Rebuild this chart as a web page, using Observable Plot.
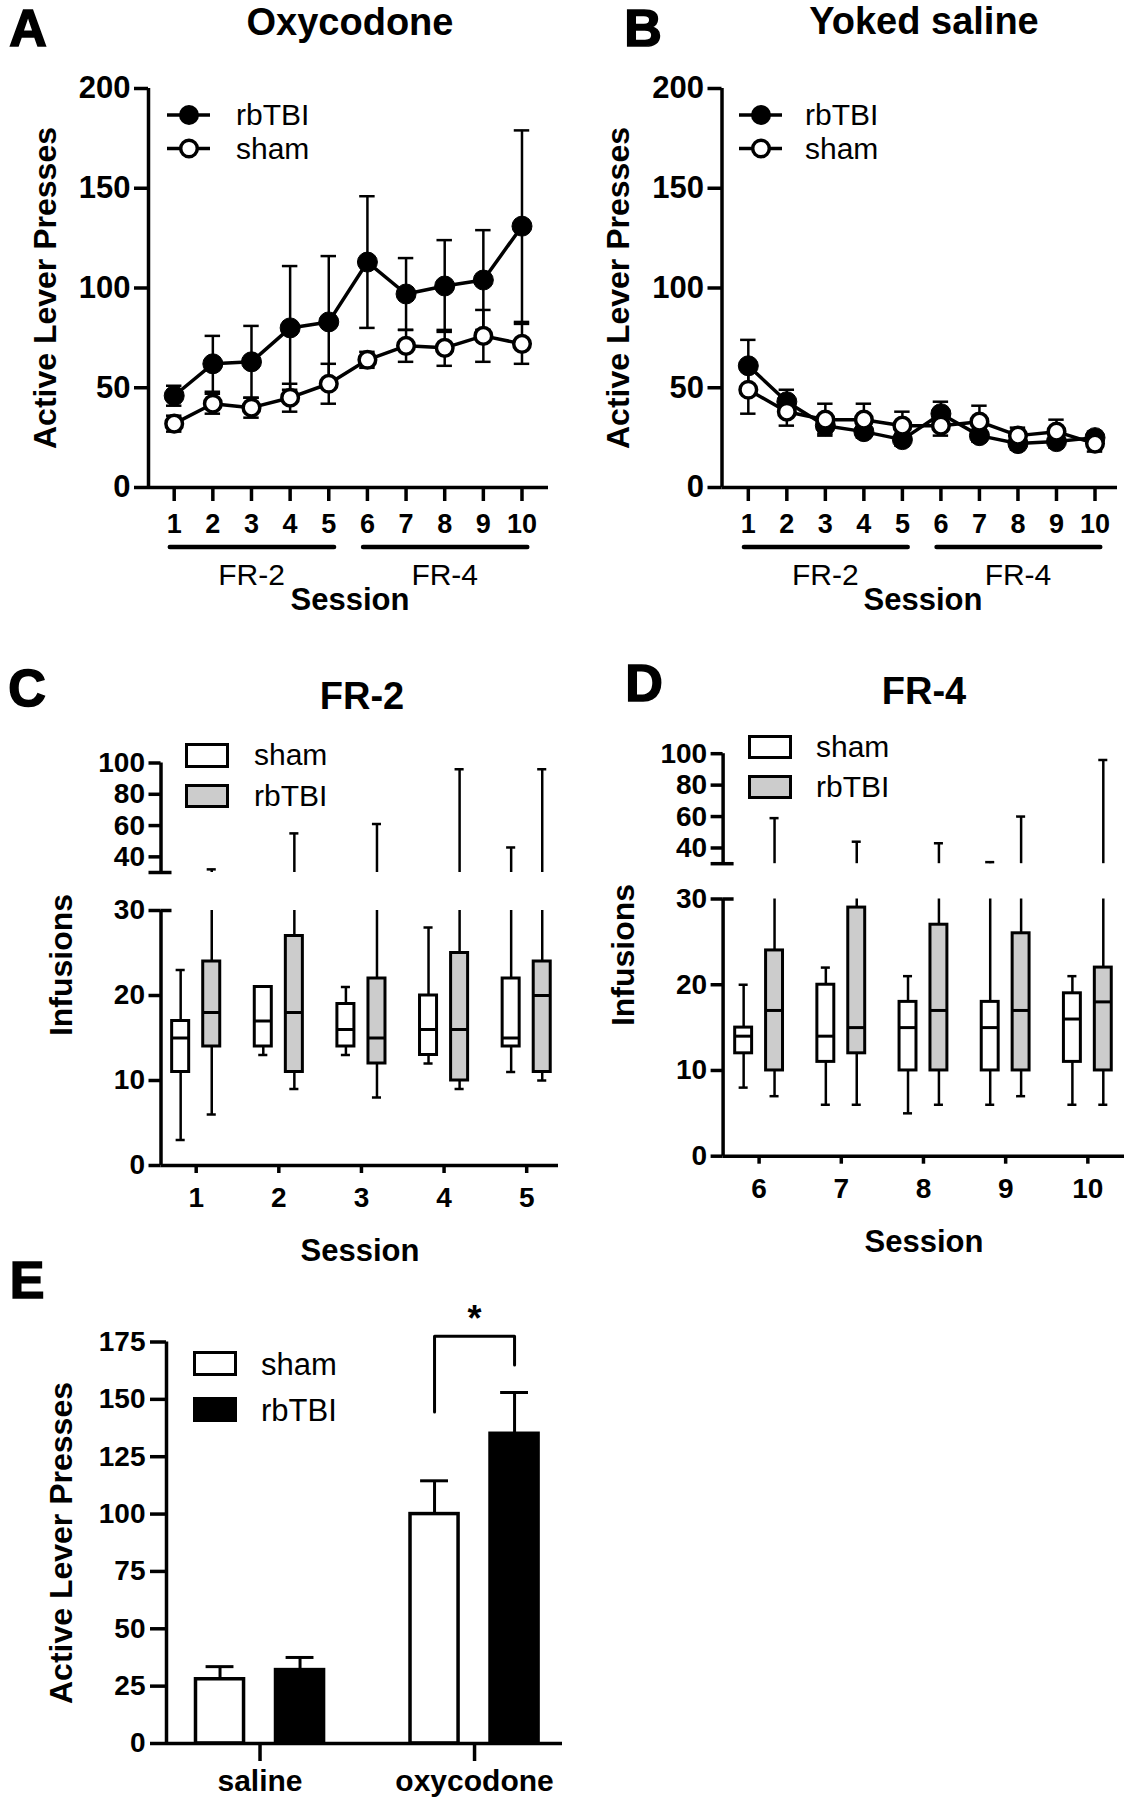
<!DOCTYPE html>
<html><head><meta charset="utf-8">
<script src="https://cdn.jsdelivr.net/npm/d3@7"></script>
<script src="https://cdn.jsdelivr.net/npm/@observablehq/plot@0.6"></script>
<style>
body{margin:0;background:#fff;}
#fig{position:relative;width:1128px;height:1800px;font-family:"Liberation Sans",Arial,Helvetica,sans-serif;color:#000;overflow:hidden;background:#fff;}
.sw{position:absolute;box-sizing:border-box;border:3px solid #000;}
</style></head><body><div id="fig"></div>
<script>
// ---------- DATA ----------
const sessions = [1,2,3,4,5,6,7,8,9,10];
const schedules = [{label:"FR-2", first:1, last:5}, {label:"FR-4", first:6, last:10}];
// Panel A: oxycodone, mean ± SEM
const oxyRbtbiMean = [46,62,63,80,83,113,97,101,104,131];
const oxyRbtbiSem  = [5,14,18,31,33,33,18,23,25,48];
const oxyShamMean  = [32,42,40,45,52,64,71,70,76,72];
const oxyShamSem   = [4,5,5,7,10,4,8,9,13,10];
// Panel B: yoked saline
const salRbtbiMean = [61,43,31,28,24,37,26,22,23,25];
const salRbtbiSem  = [13,6,4,3,3,6,3,3,3,3];
const salShamMean  = [49,38,34,34,31,31,33,26,28,22];
const salShamSem   = [12,7,8,8,7,5,8,4,6,4];
// Panels C, D: infusions [min, q1, median, q3, max]
const sessionsC = [1,2,3,4,5];
const shamC  = [[3,11,15,17,23],[13,14,17,21,21],[13,14,16,19,21],[12,13,16,20,28],[11,14,15,22,46]];
const rbtbiC = [[6,14,18,24,32],[9,11,18,27,55],[8,12,15,22,61],[9,10,16,25,96],[10,11,20,24,96]];
const sessionsD = [6,7,8,9,10];
const shamD  = [[8,12,14,15,20],[6,11,14,20,22],[5,10,15,18,21],[6,10,15,18,31],[6,11,16,19,21]];
const rbtbiD = [[7,10,17,24,59],[6,12,15,29,44],[6,10,17,27,43],[7,10,17,26,60],[6,10,18,22,96]];
// Panel E: active lever presses, mean ± SEM
const categoriesE = ["saline","oxycodone"];
const shamE     = [28,100];
const shamSemE  = [5.5,14.5];
const rbtbiE    = [32,135];
const rbtbiSemE = [5.5,18];
const bracketE  = {category:1, leftEnd:144.5, top:177.5, rightEnd:165, text:"*"};

// ---------- HELPERS ----------
const FONT = '"Liberation Sans", Arial, Helvetica, sans-serif';
const fig = document.getElementById("fig");
function place(node, left, top){
  node.style.position="absolute"; node.style.left=left+"px"; node.style.top=top+"px";
  fig.appendChild(node);
}
function label(text, x, y, o={}){
  const d=document.createElement("div");
  d.textContent=text;
  d.style.cssText=`position:absolute;left:${x}px;top:${y}px;white-space:nowrap;line-height:1;font-size:${o.size||30}px;font-weight:${o.weight||"normal"};`+(o.heavy?"-webkit-text-stroke:1.6px #000;":"");
  const tx = o.anchor==="start" ? "0" : "-50%";
  d.style.transform=`translate(${tx},-50%)`+(o.rotate?` rotate(${o.rotate}deg)`:"");
  fig.appendChild(d);
}
function swatch(x,y,w,h,fill){
  const d=document.createElement("div"); d.className="sw";
  d.style.cssText+=`left:${x}px;top:${y}px;width:${w}px;height:${h}px;background:${fill};`;
  fig.appendChild(d);
}
function lineLegend(x, y1, y2){
  const ns="http://www.w3.org/2000/svg";
  const s=document.createElementNS(ns,"svg");
  s.setAttribute("width",60); s.setAttribute("height",80);
  s.innerHTML=`<line x1="7" y1="${y1}" x2="50" y2="${y1}" stroke="#000" stroke-width="3.5"/>
  <circle cx="29" cy="${y1}" r="10" fill="#000"/>
  <line x1="7" y1="${y2}" x2="50" y2="${y2}" stroke="#000" stroke-width="3.5"/>
  <circle cx="29" cy="${y2}" r="8.3" fill="#fff" stroke="#000" stroke-width="3.5"/>`;
  place(s, x, 95);
}
const baseStyle = {fontFamily: FONT, background:"transparent", color:"#000", overflow:"visible"};
const intFmt = d => String(d);

// ---------- PANELS A, B ----------
function linePanel({left, ml, mr, xdom, rb, rbs, sh, shs}){
  const W=564, H=620;
  const rows = sessions.map((s,i)=>({s, rb:rb[i], rbs:rbs[i], sh:sh[i], shs:shs[i]}));
  const cap=0.2;
  const p = Plot.plot({
    width:W, height:H, marginLeft:ml, marginRight:mr, marginTop:88, marginBottom:133,
    style: baseStyle,
    x:{type:"linear", domain:xdom}, y:{domain:[0,200]},
    marks:[
      Plot.ruleX(rows,{x:"s", y1:d=>d.rb-d.rbs, y2:d=>d.rb+d.rbs, strokeWidth:2.5}),
      Plot.ruleY(rows,{x1:d=>d.s-cap, x2:d=>d.s+cap, y:d=>d.rb+d.rbs, strokeWidth:2.5}),
      Plot.ruleY(rows,{x1:d=>d.s-cap, x2:d=>d.s+cap, y:d=>d.rb-d.rbs, strokeWidth:2.5}),
      Plot.ruleX(rows,{x:"s", y1:d=>d.sh-d.shs, y2:d=>d.sh+d.shs, strokeWidth:2.5}),
      Plot.ruleY(rows,{x1:d=>d.s-cap, x2:d=>d.s+cap, y:d=>d.sh+d.shs, strokeWidth:2.5}),
      Plot.ruleY(rows,{x1:d=>d.s-cap, x2:d=>d.s+cap, y:d=>d.sh-d.shs, strokeWidth:2.5}),
      Plot.line(rows,{x:"s", y:"rb", stroke:"#000", strokeWidth:3.5}),
      Plot.line(rows,{x:"s", y:"sh", stroke:"#000", strokeWidth:3.5}),
      Plot.dot(rows,{x:"s", y:"rb", r:10, fill:"#000", stroke:"#000", strokeWidth:1}),
      Plot.dot(rows,{x:"s", y:"sh", r:8.3, fill:"#fff", stroke:"#000", strokeWidth:3.5}),
      Plot.ruleY([0],{strokeWidth:3.5}),
      Plot.ruleX([xdom[0]],{strokeWidth:3.5}),
      Plot.axisY({ticks:[0,50,100,150,200], tickSize:14, tickPadding:4, fontSize:31, fontWeight:"bold", strokeWidth:3.5, label:null}),
      Plot.axisX({ticks:sessions, tickFormat:intFmt, tickSize:14, tickPadding:12, fontSize:27, fontWeight:"bold", strokeWidth:3.5, label:null}),
      Plot.ruleY(schedules,{x1:d=>d.first-0.1, x2:d=>d.last+0.15, y:d=>0, dy:59.5, strokeWidth:4.5, strokeLinecap:"round"}),
      Plot.text(schedules,{x:d=>(d.first+d.last)/2, y:d=>0, dy:88, text:"label", fontSize:30, lineAnchor:"middle"})
    ]
  });
  place(p, left, 0);
}
linePanel({left:0, ml:148, mr:16, xdom:[0.335,10.686], rb:oxyRbtbiMean, rbs:oxyRbtbiSem, sh:oxyShamMean, shs:oxyShamSem});
linePanel({left:564, ml:157.5, mr:11, xdom:[0.317,10.584], rb:salRbtbiMean, rbs:salRbtbiSem, sh:salShamMean, shs:salShamSem});

// ---------- PANELS C, D ----------
function boxPanel({left, lowTop, lowMT, lowMB, upTop, upMT, upMB, ml, mr, xdom, sess, sham, rb}){
  const W=564;
  const off=0.188, hw=0.103, cap=0.055;
  const mk=(arr,g,o)=>arr.map((v,i)=>({s:sess[i], g, x:sess[i]+o, min:v[0], q1:v[1], med:v[2], q3:v[3], max:v[4]}));
  const shamRows=mk(sham,"sham",-off), rbRows=mk(rb,"rbTBI",off);
  const all=shamRows.concat(rbRows);
  const ppu=(W-ml-mr)/(xdom[1]-xdom[0]);
  const boxMarks=(rows,fill)=>[
    Plot.ruleX(rows,{x:"x", y1:"min", y2:"q1", strokeWidth:2.5}),
    Plot.ruleX(rows,{x:"x", y1:"q3", y2:d=>Math.min(d.max,30), strokeWidth:2.5}),
    Plot.ruleY(rows,{x1:d=>d.x-cap, x2:d=>d.x+cap, y:"min", strokeWidth:2.5}),
    Plot.ruleY(rows.filter(d=>d.max<=30 && d.max>d.q3),{x1:d=>d.x-cap, x2:d=>d.x+cap, y:"max", strokeWidth:2.5}),
    Plot.rect(rows,{x1:d=>d.x-hw, x2:d=>d.x+hw, y1:"q1", y2:"q3", fill, stroke:"#000", strokeWidth:3}),
    Plot.ruleY(rows,{x1:d=>d.x-hw, x2:d=>d.x+hw, y:"med", strokeWidth:3})
  ];
  const lower=Plot.plot({
    width:W, height:400, marginLeft:ml, marginRight:mr, marginTop:lowMT, marginBottom:lowMB,
    style:baseStyle, x:{type:"linear", domain:xdom}, y:{domain:[0,30]},
    marks:[
      ...boxMarks(shamRows,"#fff"), ...boxMarks(rbRows,"#cccccc"),
      Plot.ruleY([0],{strokeWidth:3.5}),
      Plot.ruleX([xdom[0]],{strokeWidth:3.5}),
      Plot.ruleY([30],{x1:d=>xdom[0], x2:d=>xdom[0]+11/ppu, strokeWidth:3.5}),
      Plot.axisY({ticks:[0,10,20,30], tickFormat:intFmt, tickSize:12, tickPadding:4, fontSize:28, fontWeight:"bold", strokeWidth:3.5, label:null}),
      Plot.axisX({ticks:sess, tickFormat:intFmt, tickSize:8, tickPadding:14, fontSize:28, fontWeight:"bold", strokeWidth:3.5, label:null})
    ]
  });
  place(lower,left,lowTop);
  const hi=all.filter(d=>d.max>30);
  const upper=Plot.plot({
    width:W, height:140, marginLeft:ml, marginRight:mr, marginTop:upMT, marginBottom:upMB,
    style:baseStyle, x:{type:"linear", domain:xdom, axis:null}, y:{domain:[30,100]},
    marks:[
      Plot.ruleX(hi,{x:"x", y1:d=>30, y2:"max", strokeWidth:2.5}),
      Plot.ruleY(hi,{x1:d=>d.x-cap, x2:d=>d.x+cap, y:"max", strokeWidth:2.5}),
      Plot.ruleX([xdom[0]],{strokeWidth:3.5}),
      Plot.ruleY([30],{x1:d=>xdom[0]-12/ppu, x2:d=>xdom[0]+11/ppu, strokeWidth:3.5}),
      Plot.axisY({ticks:[40,60,80,100], tickFormat:intFmt, tickSize:12, tickPadding:4, fontSize:28, fontWeight:"bold", strokeWidth:3.5, label:null})
    ]
  });
  place(upper,left,upTop);
}
boxPanel({left:0, lowTop:880, lowMT:30, lowMB:115, upTop:740, upMT:22.5, upMB:8, ml:160.5, mr:6, xdom:[0.574,5.385], sess:sessionsC, sham:shamC, rb:rbtbiC});
boxPanel({left:564, lowTop:870, lowMT:28.5, lowMB:114.3, upTop:730, upMT:23.2, upMB:6.8, ml:158.6, mr:4, xdom:[5.562,10.446], sess:sessionsD, sham:shamD, rb:rbtbiD});

// ---------- PANEL E ----------
(function(){
  const off=0.1865, hw=0.112, cap=0.065;
  const rows=categoriesE.map((c,i)=>({i, c, sh:shamE[i], shs:shamSemE[i], rb:rbtbiE[i], rbs:rbtbiSemE[i]}));
  const b=bracketE;
  const bpts=[{x:b.category-off,y:b.leftEnd},{x:b.category-off,y:b.top},{x:b.category+off,y:b.top},{x:b.category+off,y:b.rightEnd}];
  const p=Plot.plot({
    width:564, height:500, marginLeft:166, marginRight:2, marginTop:41.5, marginBottom:57,
    style:baseStyle, x:{type:"linear", domain:[-0.436,1.41]}, y:{domain:[0,175]},
    marks:[
      Plot.ruleX(rows,{x:d=>d.i-off, y1:"sh", y2:d=>d.sh+d.shs, strokeWidth:3}),
      Plot.ruleY(rows,{x1:d=>d.i-off-cap, x2:d=>d.i-off+cap, y:d=>d.sh+d.shs, strokeWidth:3}),
      Plot.ruleX(rows,{x:d=>d.i+off, y1:"rb", y2:d=>d.rb+d.rbs, strokeWidth:3}),
      Plot.ruleY(rows,{x1:d=>d.i+off-cap, x2:d=>d.i+off+cap, y:d=>d.rb+d.rbs, strokeWidth:3}),
      Plot.rect(rows,{x1:d=>d.i-off-hw, x2:d=>d.i-off+hw, y1:d=>0, y2:"sh", fill:"#fff", stroke:"#000", strokeWidth:3.5}),
      Plot.rect(rows,{x1:d=>d.i+off-hw, x2:d=>d.i+off+hw, y1:d=>0, y2:"rb", fill:"#000", stroke:"#000", strokeWidth:3.5}),
      Plot.line(bpts,{x:"x", y:"y", stroke:"#000", strokeWidth:3}),
      Plot.text([b],{x:"category", y:"top", text:"text", dy:-17, fontSize:36, fontWeight:"bold", lineAnchor:"middle"}),
      Plot.ruleY([0],{strokeWidth:3.5}),
      Plot.ruleX([-0.436],{strokeWidth:3.5}),
      Plot.axisY({ticks:[0,25,50,75,100,125,150,175], tickFormat:intFmt, tickSize:16, tickPadding:5, fontSize:28, fontWeight:"bold", strokeWidth:3.5, label:null}),
      Plot.axisX({ticks:[0,1], tickFormat:i=>categoriesE[i], tickSize:18, tickPadding:8, fontSize:30, fontWeight:"bold", strokeWidth:3.5, label:null})
    ]
  });
  place(p,0,1300);
})();

// ---------- TEXT, LEGENDS ----------
label("A", 28, 28, {size:52, weight:"bold", heavy:true});
label("B", 643, 28, {size:52, weight:"bold", heavy:true});
label("C", 27, 688, {size:52, weight:"bold", heavy:true});
label("D", 644, 683, {size:52, weight:"bold", heavy:true});
label("E", 27, 1280, {size:52, weight:"bold", heavy:true});
label("Oxycodone", 350, 22, {size:38, weight:"bold"});
label("Yoked saline", 924, 21, {size:38, weight:"bold"});
label("FR-2", 362, 696, {size:38, weight:"bold"});
label("FR-4", 924, 691, {size:38, weight:"bold"});
label("Active Lever Presses", 45, 288, {size:32, weight:"bold", rotate:-90});
label("Active Lever Presses", 618, 288, {size:32, weight:"bold", rotate:-90});
label("Infusions", 61, 965, {size:32, weight:"bold", rotate:-90});
label("Infusions", 623, 955, {size:32, weight:"bold", rotate:-90});
label("Active Lever Presses", 61, 1543, {size:32, weight:"bold", rotate:-90});
label("Session", 350, 599, {size:31, weight:"bold"});
label("Session", 923, 599, {size:31, weight:"bold"});
label("Session", 360, 1250, {size:31, weight:"bold"});
label("Session", 924, 1241, {size:31, weight:"bold"});
// line legends
lineLegend(160, 20, 53.5);
lineLegend(732, 20, 53.5);
label("rbTBI", 236, 115, {anchor:"start"});
label("sham", 236, 149, {anchor:"start"});
label("rbTBI", 805, 115, {anchor:"start"});
label("sham", 805, 149, {anchor:"start"});
// box legends
swatch(185,743,44,25,"#fff"); swatch(185,784,44,24,"#cccccc");
label("sham", 254, 755, {anchor:"start"}); label("rbTBI", 254, 796, {anchor:"start"});
swatch(748,735,44,24,"#fff"); swatch(748,775,44,24,"#cccccc");
label("sham", 816, 747, {anchor:"start"}); label("rbTBI", 816, 787, {anchor:"start"});
// bar legend
swatch(193,1351,44,25,"#fff"); swatch(193,1397,44,25,"#000");
label("sham", 261, 1364, {anchor:"start", size:31}); label("rbTBI", 261, 1410, {anchor:"start", size:31});
</script></body></html>
